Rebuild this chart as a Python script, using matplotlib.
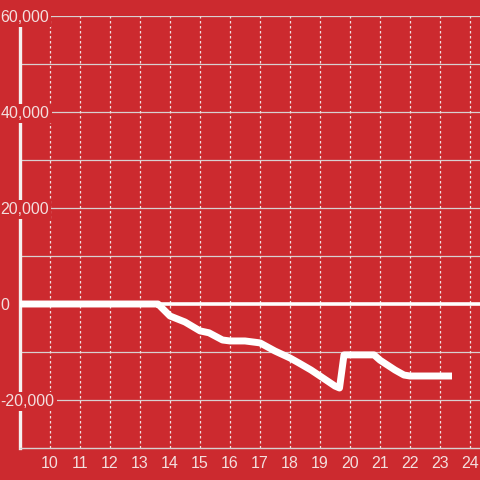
import matplotlib
matplotlib.use('Agg')
import matplotlib.pyplot as plt

# Data (hour of day vs. value)
hours = [9.0, 13.5, 13.6, 14.0, 14.5, 15.0, 15.3, 15.75, 16.0, 16.5, 17.0, 17.5, 18.0,
         18.3, 18.7, 19.0, 19.5, 19.65, 19.8, 20.0, 20.8, 21.0, 21.5, 21.8, 22.0, 23.4]
values = [0, 0, 0, -2500, -3750, -5600, -6000, -7500, -7700, -7700, -8100, -9800, -11250,
          -12300, -13750, -15000, -17100, -17500, -10600, -10600, -10600, -11700, -13750,
          -14800, -15000, -15000]
x_ticks = list(range(10, 25))
y_labels = [-20000, 0, 20000, 40000, 60000]
y_grid = [-20000, -10000, 10000, 20000, 30000, 40000, 50000, 60000]

bg = '#cc2a2f'
txt = '#f3dede'
plt.rcParams['font.family'] = ['Liberation Sans', 'DejaVu Sans']

fig = plt.figure(figsize=(4.8, 4.8), dpi=100, facecolor=bg)
ax = fig.add_axes([20/480, 32/480, 460/480, 432/480], facecolor=bg)

ax.set_xlim(9, 24 + 1/3)
ax.set_ylim(-30000, 60000)

# grid lines
for v in y_grid:
    ax.axhline(v, color='#d8d0d0', lw=0.9, zorder=1)
for t in x_ticks:
    ax.axvline(t, color='#f0e0e0', lw=0.9, ls=(0, (2, 2)), zorder=1)
ax.axhline(0, color='white', lw=2.6, zorder=2)

ax.plot(hours, values, color='white', lw=5, solid_capstyle='butt',
        solid_joinstyle='round', zorder=3)

ax.set_xticks(x_ticks)
ax.set_xticklabels([str(t) for t in x_ticks])
ax.set_yticks(y_labels)
ax.set_yticklabels([f'{v:,}' for v in y_labels])
ax.tick_params(axis='x', length=0, pad=6, labelsize=11.5, colors=txt)
ax.tick_params(axis='y', length=0, pad=14, labelsize=11.5, colors=txt)
for lbl in ax.get_yticklabels():
    lbl.set_horizontalalignment('left')
    lbl.set_bbox(dict(facecolor=bg, edgecolor='none', pad=1.5))
ax.yaxis.set_zorder(5)

for s in ['top', 'right']:
    ax.spines[s].set_visible(False)
ax.spines['left'].set_color('#f5f0f0')
ax.spines['left'].set_linewidth(2.4)
ax.spines['left'].set_zorder(2)
ax.spines['bottom'].set_color('#d8d0d0')
ax.spines['bottom'].set_linewidth(1)

fig.savefig('out.png', dpi=100, facecolor=bg)
